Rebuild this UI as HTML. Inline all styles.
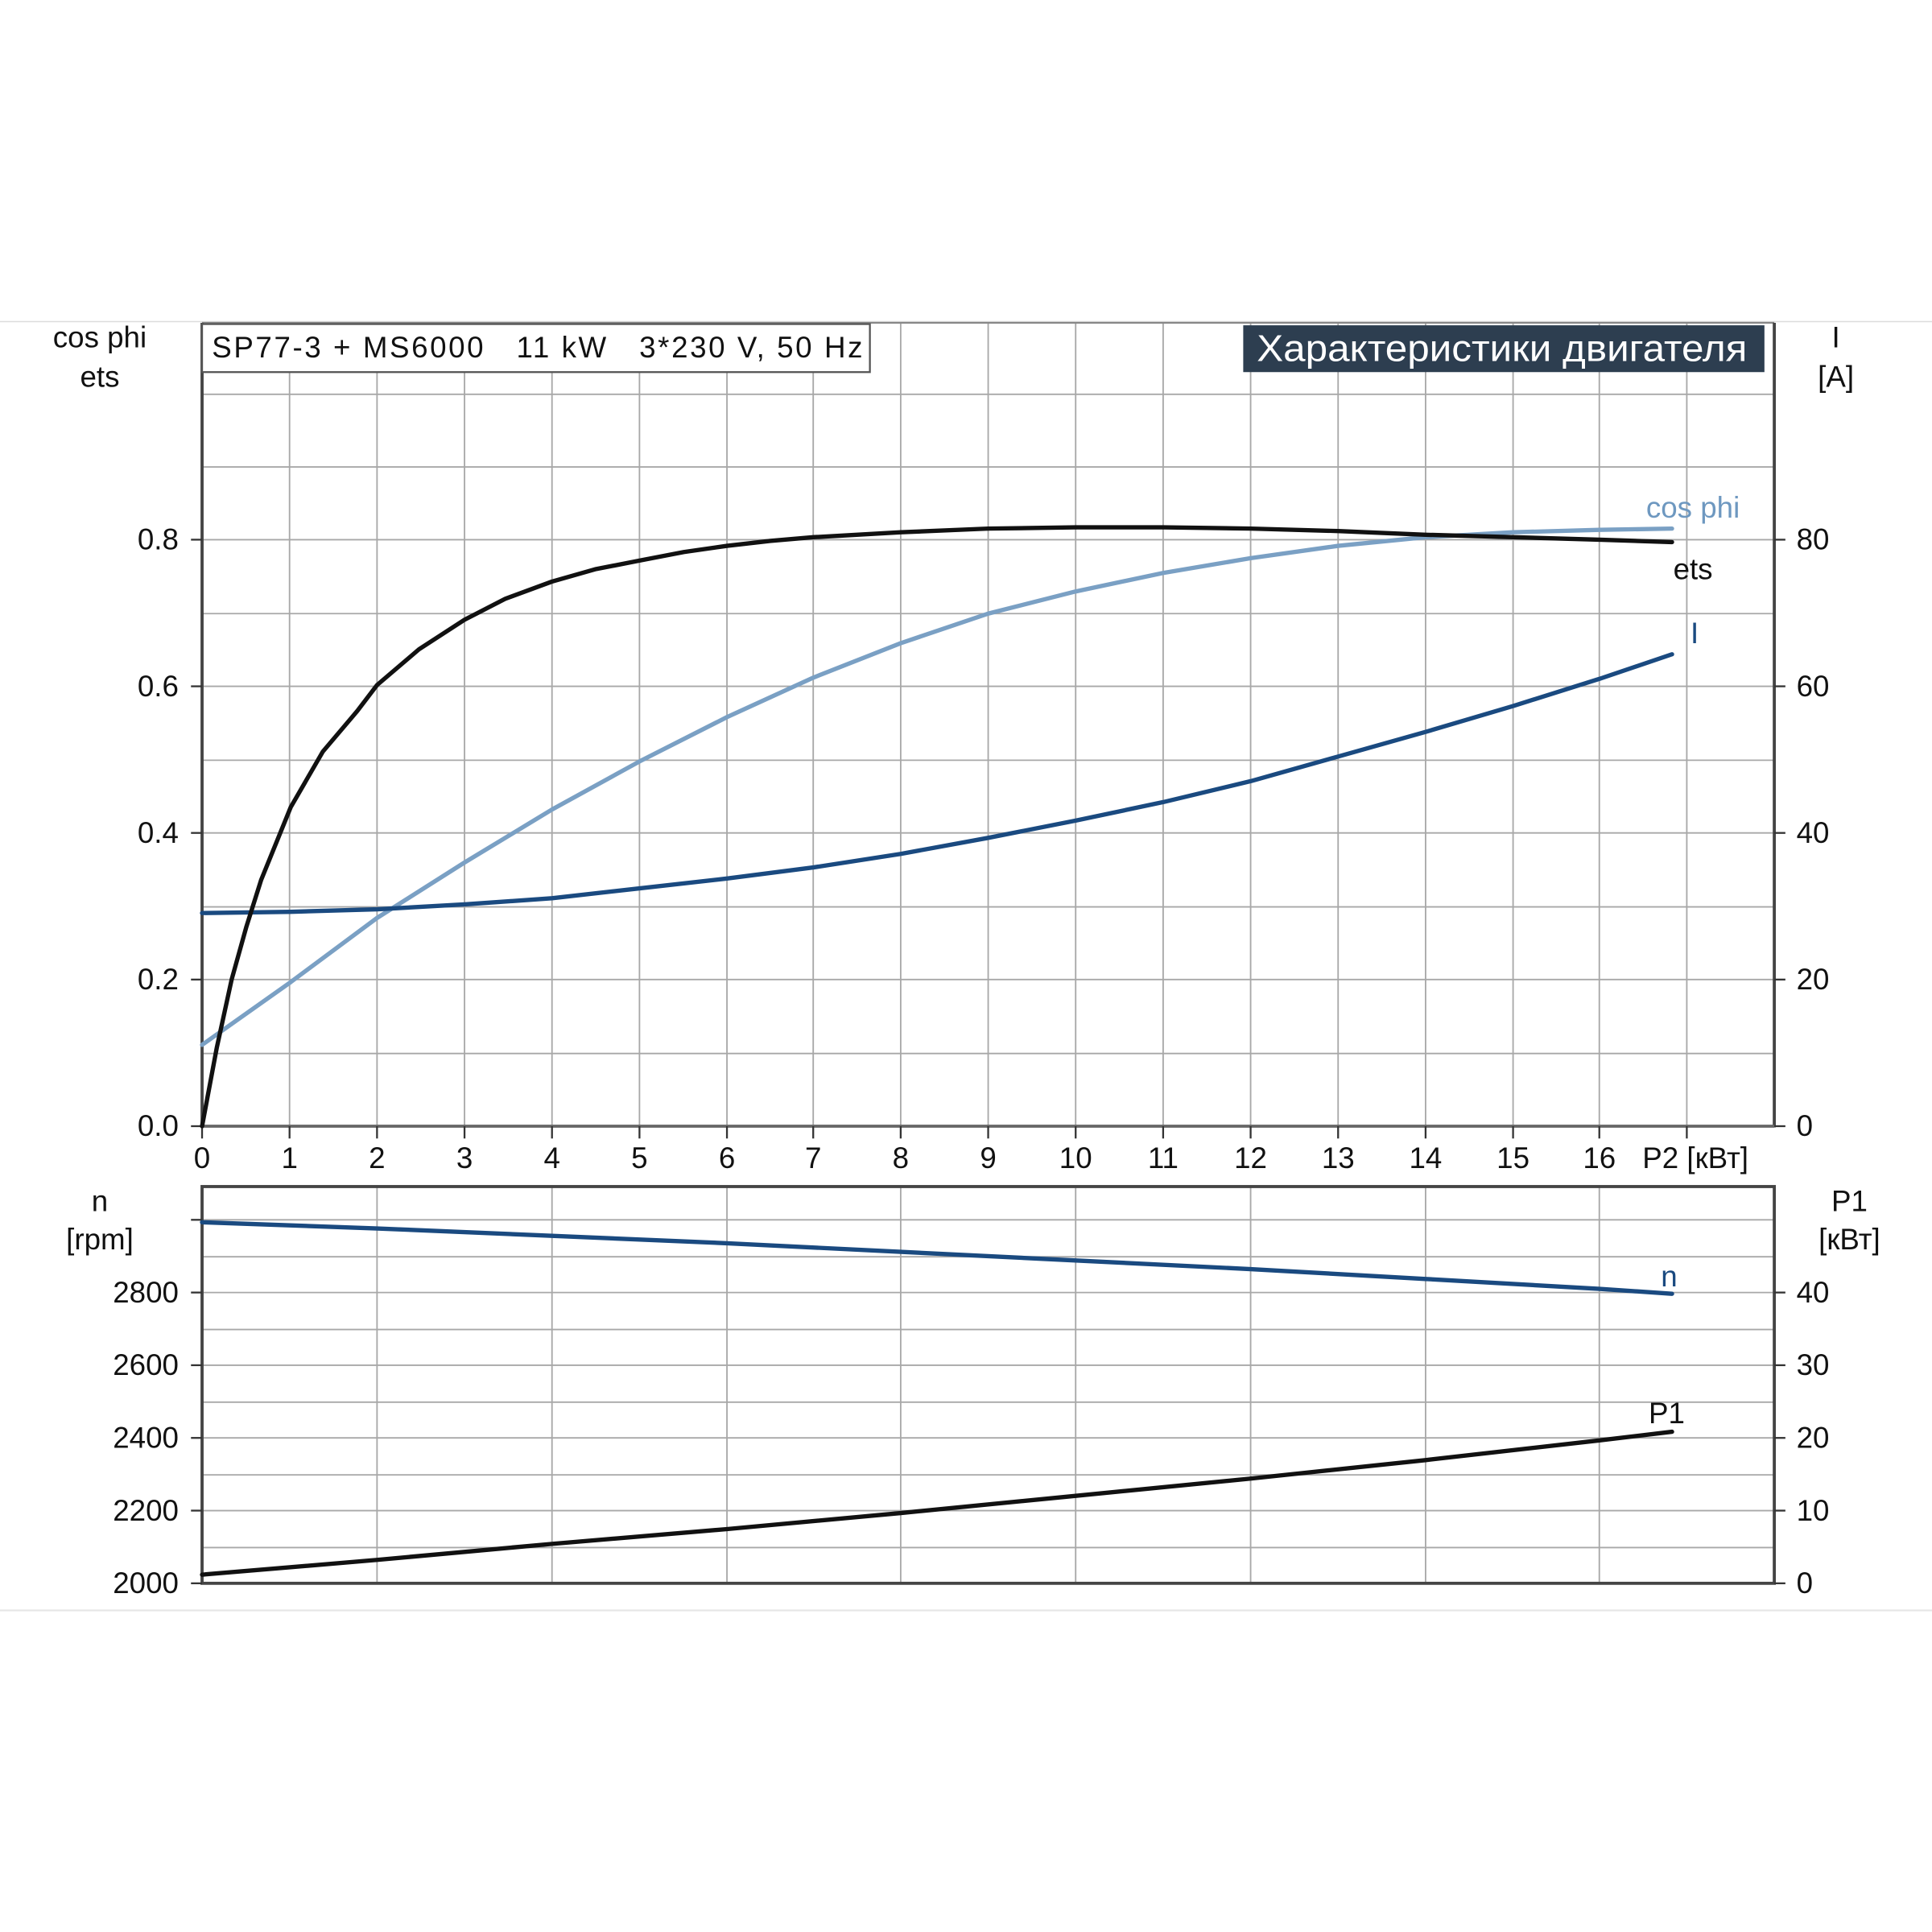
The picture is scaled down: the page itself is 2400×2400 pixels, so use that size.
<!DOCTYPE html>
<html><head><meta charset="utf-8"><style>
html,body{margin:0;padding:0;background:#fff;width:2400px;height:2400px;overflow:hidden}
text{font-family:"Liberation Sans","DejaVu Sans",sans-serif}
</style></head><body>
<svg width="2400" height="2400" viewBox="0 0 1568 1568" xmlns="http://www.w3.org/2000/svg">
<rect width="1568" height="1568" fill="#fff"/>
<line x1="0" y1="261" x2="1568" y2="261" stroke="#ddd" stroke-width="1"/>
<line x1="0" y1="1307" x2="1568" y2="1307" stroke="#e6e6e6" stroke-width="1.5"/>
<g stroke="#a8a8a8" stroke-width="1.2">
<line x1="164" y1="855" x2="1440" y2="855"/><line x1="164" y1="795" x2="1440" y2="795"/>
<line x1="164" y1="736" x2="1440" y2="736"/><line x1="164" y1="676" x2="1440" y2="676"/>
<line x1="164" y1="617" x2="1440" y2="617"/><line x1="164" y1="557" x2="1440" y2="557"/>
<line x1="164" y1="498" x2="1440" y2="498"/><line x1="164" y1="438" x2="1440" y2="438"/>
<line x1="164" y1="379" x2="1440" y2="379"/><line x1="164" y1="320" x2="1440" y2="320"/>
<line x1="235" y1="262" x2="235" y2="914"/><line x1="306" y1="262" x2="306" y2="914"/>
<line x1="377" y1="262" x2="377" y2="914"/><line x1="448" y1="262" x2="448" y2="914"/>
<line x1="519" y1="262" x2="519" y2="914"/><line x1="590" y1="262" x2="590" y2="914"/>
<line x1="660" y1="262" x2="660" y2="914"/><line x1="731" y1="262" x2="731" y2="914"/>
<line x1="802" y1="262" x2="802" y2="914"/><line x1="873" y1="262" x2="873" y2="914"/>
<line x1="944" y1="262" x2="944" y2="914"/><line x1="1015" y1="262" x2="1015" y2="914"/>
<line x1="1086" y1="262" x2="1086" y2="914"/><line x1="1157" y1="262" x2="1157" y2="914"/>
<line x1="1228" y1="262" x2="1228" y2="914"/><line x1="1298" y1="262" x2="1298" y2="914"/>
<line x1="1369" y1="262" x2="1369" y2="914"/>
<line x1="164" y1="1256" x2="1440" y2="1256"/><line x1="164" y1="1226" x2="1440" y2="1226"/>
<line x1="164" y1="1197" x2="1440" y2="1197"/><line x1="164" y1="1167" x2="1440" y2="1167"/>
<line x1="164" y1="1138" x2="1440" y2="1138"/><line x1="164" y1="1108" x2="1440" y2="1108"/>
<line x1="164" y1="1079" x2="1440" y2="1079"/><line x1="164" y1="1049" x2="1440" y2="1049"/>
<line x1="164" y1="1020" x2="1440" y2="1020"/><line x1="164" y1="990" x2="1440" y2="990"/>
<line x1="306" y1="963" x2="306" y2="1285"/><line x1="448" y1="963" x2="448" y2="1285"/>
<line x1="590" y1="963" x2="590" y2="1285"/><line x1="731" y1="963" x2="731" y2="1285"/>
<line x1="873" y1="963" x2="873" y2="1285"/><line x1="1015" y1="963" x2="1015" y2="1285"/>
<line x1="1157" y1="963" x2="1157" y2="1285"/><line x1="1298" y1="963" x2="1298" y2="1285"/>
</g>
<g stroke="#444" stroke-width="2.5" fill="none">
<line x1="164" y1="262" x2="1440" y2="262" stroke="#888" stroke-width="1.5"/>
<line x1="164" y1="262" x2="164" y2="915"/><line x1="1440" y1="262" x2="1440" y2="915"/>
<line x1="164" y1="914" x2="1440" y2="914" stroke="#666"/>
<rect x="164" y="963" width="1276" height="322"/>
</g>
<g stroke="#333" stroke-width="1.5">
<line x1="155" y1="914" x2="164" y2="914"/><line x1="155" y1="795" x2="164" y2="795"/><line x1="155" y1="676" x2="164" y2="676"/><line x1="155" y1="557" x2="164" y2="557"/><line x1="155" y1="438" x2="164" y2="438"/>
<line x1="1440" y1="914" x2="1449" y2="914"/><line x1="1440" y1="795" x2="1449" y2="795"/><line x1="1440" y1="676" x2="1449" y2="676"/><line x1="1440" y1="557" x2="1449" y2="557"/><line x1="1440" y1="438" x2="1449" y2="438"/>
<line x1="164" y1="914" x2="164" y2="924"/><line x1="235" y1="914" x2="235" y2="924"/><line x1="306" y1="914" x2="306" y2="924"/><line x1="377" y1="914" x2="377" y2="924"/><line x1="448" y1="914" x2="448" y2="924"/><line x1="519" y1="914" x2="519" y2="924"/><line x1="590" y1="914" x2="590" y2="924"/><line x1="660" y1="914" x2="660" y2="924"/><line x1="731" y1="914" x2="731" y2="924"/><line x1="802" y1="914" x2="802" y2="924"/><line x1="873" y1="914" x2="873" y2="924"/><line x1="944" y1="914" x2="944" y2="924"/><line x1="1015" y1="914" x2="1015" y2="924"/><line x1="1086" y1="914" x2="1086" y2="924"/><line x1="1157" y1="914" x2="1157" y2="924"/><line x1="1228" y1="914" x2="1228" y2="924"/><line x1="1298" y1="914" x2="1298" y2="924"/><line x1="1369" y1="914" x2="1369" y2="924"/>
<line x1="155" y1="1285" x2="164" y2="1285"/><line x1="155" y1="1226" x2="164" y2="1226"/><line x1="155" y1="1167" x2="164" y2="1167"/><line x1="155" y1="1108" x2="164" y2="1108"/><line x1="155" y1="1049" x2="164" y2="1049"/><line x1="155" y1="990" x2="164" y2="990"/>
<line x1="1440" y1="1285" x2="1449" y2="1285"/><line x1="1440" y1="1226" x2="1449" y2="1226"/><line x1="1440" y1="1167" x2="1449" y2="1167"/><line x1="1440" y1="1108" x2="1449" y2="1108"/><line x1="1440" y1="1049" x2="1449" y2="1049"/>
</g>
<g fill="none" stroke-linecap="round" stroke-linejoin="round">
<polyline stroke="#7aa0c4" stroke-width="3.5" points="164,848 236,797 306,745 377,700 448,657 519,618 590,582 660,550 731,522 802,498 873,480 944,465 1015,453 1086,443 1157,436 1228,432 1298,430 1357,429"/>
<polyline stroke="#1a4a80" stroke-width="3.5" points="164,741 236,740 306,738 377,734 448,729 519,721 590,713 660,704 731,693 802,680 873,666 944,651 1015,634 1086,614 1157,594 1228,573 1298,551 1357,531"/>
<path stroke="#111" stroke-width="3.5" d="M164,914 L176,850 L188,795 L200,752 L212,714 L236,655 L262,610 L290,577 L306,556 L340,527 L377,503 L410,486 L448,472 L483,462 L519,455 L555,448 L590,443 L625,439 L660,436 L731,432 L802,429 L873,428 L944,428 L1015,429 L1086,431 L1157,434 L1228,436 L1298,438 L1357,440"/>
<polyline stroke="#1a4a80" stroke-width="3.5" points="164,992 306,997 448,1003 590,1009 731,1016 873,1023 1015,1030 1157,1038 1298,1046 1357,1050"/>
<polyline stroke="#111" stroke-width="3.5" points="164,1278 306,1266 448,1253 590,1241 731,1228 873,1214 1015,1200 1157,1185 1298,1169 1357,1162"/>
</g>
<rect x="164" y="263" width="542" height="39" fill="#fff" stroke="#555" stroke-width="1.5"/>
<text x="172" y="290" font-size="24" fill="#111" xml:space="preserve" textLength="528" lengthAdjust="spacing">SP77-3 + MS6000   11 kW   3*230 V, 50 Hz</text>
<rect x="1009" y="264" width="423" height="38" fill="#2d3e50"/>
<text x="1020" y="293" font-size="30" fill="#fff" textLength="398" lengthAdjust="spacingAndGlyphs">Характеристики двигателя</text>
<g font-size="24" fill="#111">
<text x="81" y="282" text-anchor="middle">cos phi</text>
<text x="81" y="314" text-anchor="middle">ets</text>
<text x="145" y="922" text-anchor="end">0.0</text><text x="145" y="803" text-anchor="end">0.2</text><text x="145" y="684" text-anchor="end">0.4</text><text x="145" y="565" text-anchor="end">0.6</text><text x="145" y="446" text-anchor="end">0.8</text>
<text x="1490" y="282" text-anchor="middle">I</text><text x="1490" y="314" text-anchor="middle">[A]</text>
<text x="1458" y="922">0</text><text x="1458" y="803">20</text><text x="1458" y="684">40</text><text x="1458" y="565">60</text><text x="1458" y="446">80</text>
<g text-anchor="middle">
<text x="164" y="948">0</text><text x="235" y="948">1</text><text x="306" y="948">2</text><text x="377" y="948">3</text><text x="448" y="948">4</text><text x="519" y="948">5</text><text x="590" y="948">6</text><text x="660" y="948">7</text><text x="731" y="948">8</text><text x="802" y="948">9</text><text x="873" y="948">10</text><text x="944" y="948">11</text><text x="1015" y="948">12</text><text x="1086" y="948">13</text><text x="1157" y="948">14</text><text x="1228" y="948">15</text><text x="1298" y="948">16</text>
</g>
<text x="1333" y="948">P2 [кВт]</text>
<text x="81" y="983" text-anchor="middle">n</text><text x="81" y="1014" text-anchor="middle">[rpm]</text>
<text x="145" y="1293" text-anchor="end">2000</text><text x="145" y="1234" text-anchor="end">2200</text><text x="145" y="1175" text-anchor="end">2400</text><text x="145" y="1116" text-anchor="end">2600</text><text x="145" y="1057" text-anchor="end">2800</text>
<text x="1501" y="983" text-anchor="middle">P1</text><text x="1501" y="1014" text-anchor="middle">[кВт]</text>
<text x="1458" y="1293">0</text><text x="1458" y="1234">10</text><text x="1458" y="1175">20</text><text x="1458" y="1116">30</text><text x="1458" y="1057">40</text>
<text x="1336" y="420" fill="#6e98c0">cos phi</text>
<text x="1358" y="470">ets</text>
<text x="1372" y="522" fill="#1a4a80">I</text>
<text x="1348" y="1044" fill="#1a4a80">n</text>
<text x="1338" y="1155">P1</text>
</g>
</svg>
</body></html>
